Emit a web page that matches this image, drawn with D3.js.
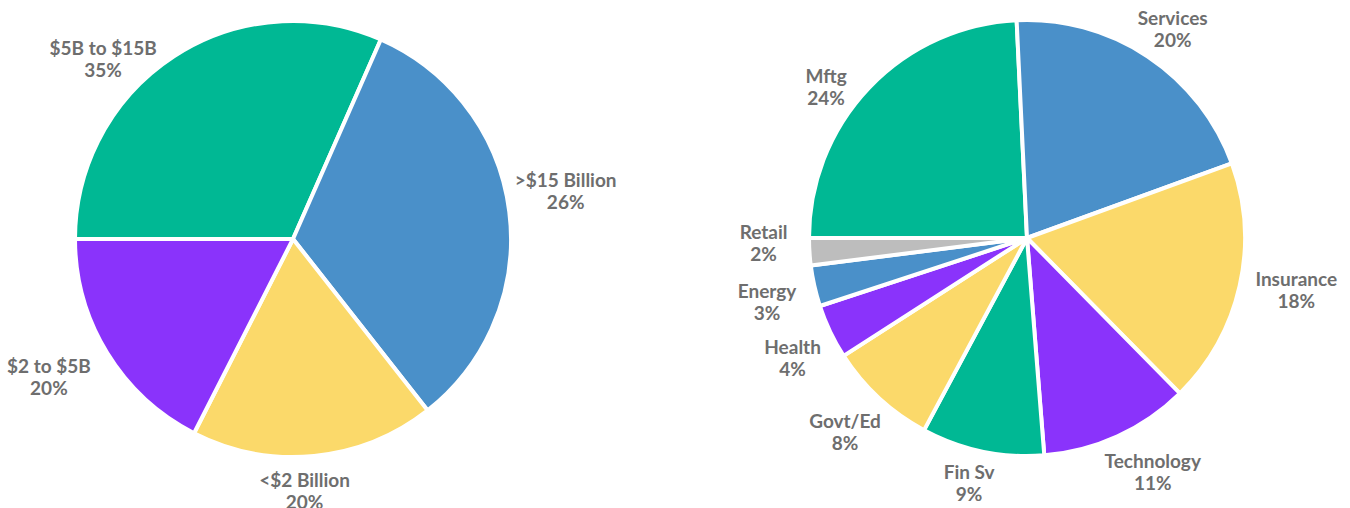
<!DOCTYPE html>
<html>
<head>
<meta charset="utf-8">
<script src="https://cdn.jsdelivr.net/npm/d3@7"></script>
<style>
  body { margin: 0; background: #fff; }
  .lbl { font-family: Lato, "Open Sans", sans-serif; font-weight: bold; font-size: 19px; fill: #6e6e6e; }
</style>
</head>
<body>
<div id="chart"></div>
<script>
// left pie: company size
var sizeCategories = ["$5B to $15B", ">$15 Billion", "<$2 Billion", "$2 to $5B"];
var sizeShares = [31.6, 32.8, 18.1, 17.5];
var sizeLabels = ["35%", "26%", "20%", "20%"];

// right pie: industry
var industryCategories = ["Mftg", "Services", "Insurance", "Technology", "Fin Sv", "Govt/Ed", "Health", "Energy", "Retail"];
var industryShares = [24, 20, 18, 11, 9, 8, 4, 3, 2];
var industryLabels = ["24%", "20%", "18%", "11%", "9%", "8%", "4%", "3%", "2%"];

var green = "#00b894", blue = "#4a90c9", yellow = "#fbd96a", purple = "#8a33fb", gray = "#bdbdbd";
var sizeColors = [green, blue, yellow, purple];
var industryColors = [green, blue, yellow, purple, green, yellow, purple, blue, gray];

// small per-label shifts, like the hand placed labels of the original
var labelNudge = {
  "$5B to $15B": [-36, 29], ">$15 Billion": [-4, -17], "<$2 Billion": [-15, 3], "$2 to $5B": [-14, 7],
  "Services": [0, -1], "Mftg": [-21, 22], "Insurance": [7, -3], "Technology": [11, 7], "Fin Sv": [-6, 0],
  "Govt/Ed": [-3, 10], "Health": [-3, 13], "Energy": [-9, 9], "Retail": [-12, -11]
};

var width = 1350, height = 508;
var svg = d3.select("#chart").append("svg")
    .attr("width", width)
    .attr("height", height);

function drawPie(cx, cy, r, cats, shares, labels, colors) {
  var rows = cats.map(function(c, i) {
    return { cat: c, value: shares[i], label: labels[i], color: colors[i] };
  });

  var pie = d3.pie()
      .sort(null)
      .startAngle(-Math.PI / 2)
      .endAngle(Math.PI * 1.5)
      .value(function(d) { return d.value; });

  var arc = d3.arc().innerRadius(0).outerRadius(r + 2);

  var g = svg.append("g").attr("transform", "translate(" + cx + "," + cy + ")");

  var arcs = pie(rows);

  g.selectAll("path")
    .data(arcs)
    .enter()
    .append("path")
    .attr("d", arc)
    .attr("fill", function(d) { return d.data.color; })
    .attr("stroke", "#fff")
    .attr("stroke-width", 4)
    .attr("stroke-linejoin", "round");

  var texts = g.selectAll("text.lbl")
    .data(arcs)
    .enter()
    .append("text")
    .attr("class", "lbl")
    .attr("text-anchor", "middle");

  texts.append("tspan").attr("class", "l1").text(function(d) { return d.data.cat; });
  texts.append("tspan").attr("class", "l2").text(function(d) { return d.data.label; });

  texts.each(function(d) {
    var t = d3.select(this);
    // widest of the two lines
    var w = Math.max(t.select(".l1").node().getComputedTextLength(),
                     t.select(".l2").node().getComputedTextLength());
    var h = 44;
    var a = (d.startAngle + d.endAngle) / 2;
    var ux = Math.sin(a), uy = -Math.cos(a);
    var pad = 12;
    var x = ux * (r + pad) + ux * w / 2;
    var y = uy * (r + pad) + uy * h / 2;
    var n = labelNudge[d.data.cat] || [0, 0];
    x += n[0];
    y += n[1];
    t.select(".l1").attr("x", x).attr("y", y - 4);
    t.select(".l2").attr("x", x).attr("y", y + 18);
  });
}

drawPie(293, 239, 216, sizeCategories, sizeShares, sizeLabels, sizeColors);
drawPie(1027, 238, 216, industryCategories, industryShares, industryLabels, industryColors);
</script>
</body>
</html>
